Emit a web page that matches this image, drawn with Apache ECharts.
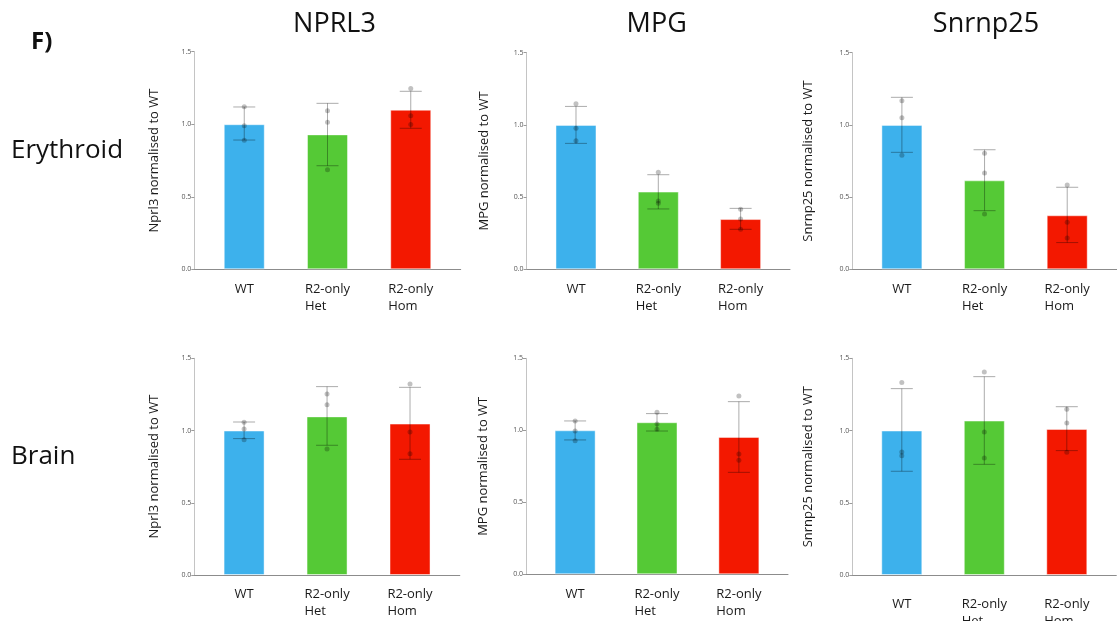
<!DOCTYPE html>
<html>
<head>
<meta charset="utf-8">
<title>qPCR expression, normalised to WT</title>
<script src="https://cdn.jsdelivr.net/npm/echarts@6/dist/echarts.min.js"></script>
<style>
  html, body { margin: 0; padding: 0; background: #ffffff; }
  #chart { width: 1117px; height: 621px; }
</style>
</head>
<body>
<div id="chart"></div>
<script>
// Genotype groups on every x axis
const groups = ['WT', 'R2-only\nHet', 'R2-only\nHom'];
const genes = ['NPRL3', 'MPG', 'Snrnp25'];
const yNames = ['Nprl3 normalised to WT', 'MPG normalised to WT', 'Snrnp25 normalised to WT'];
const tissues = ['Erythroid', 'Brain'];
const panelLetter = 'F)';
const groupColors = ['#3db1ec', '#55c936', '#f31800'];

// Erythroid: bar means, error bar [low, high], and individual replicates
const eryNprl3Mean = [1.00, 0.93, 1.10];
const eryNprl3Err = [[0.891, 1.119], [0.714, 1.144], [0.972, 1.227]];
const eryNprl3Pts = [[1.120, 0.990, 0.890], [1.093, 1.013, 0.687], [1.247, 1.059, 0.999]];

const eryMpgMean = [1.00, 0.538, 0.348];
const eryMpgErr = [[0.872, 1.128], [0.418, 0.655], [0.277, 0.422]];
const eryMpgPts = [[1.147, 0.976, 0.891], [0.672, 0.473, 0.457], [0.415, 0.348, 0.277]];

const erySnrnp25Mean = [1.00, 0.616, 0.374];
const erySnrnp25Err = [[0.810, 1.191], [0.406, 0.828], [0.185, 0.568]];
const erySnrnp25Pts = [[1.168, 1.050, 0.789], [0.803, 0.667, 0.383], [0.584, 0.325, 0.217]];

// Brain
const brainNprl3Mean = [1.00, 1.098, 1.048];
const brainNprl3Err = [[0.944, 1.059], [0.898, 1.304], [0.801, 1.299]];
const brainNprl3Pts = [[1.057, 1.011, 0.937], [1.253, 1.179, 0.872], [1.322, 0.990, 0.840]];

const brainMpgMean = [1.00, 1.056, 0.954];
const brainMpgErr = [[0.933, 1.065], [0.995, 1.116], [0.708, 1.199]];
const brainMpgPts = [[1.065, 0.995, 0.928], [1.125, 1.044, 1.007], [1.238, 0.836, 0.792]];

const brainSnrnp25Mean = [1.00, 1.069, 1.011];
const brainSnrnp25Err = [[0.718, 1.290], [0.766, 1.373], [0.861, 1.165]];
const brainSnrnp25Pts = [[1.332, 0.852, 0.826], [1.405, 0.990, 0.810], [1.147, 1.052, 0.849]];

// y-axis tick range
const yMin = 0, yMax = 1.5, yStep = 0.5;

const panels = [
  { mean: eryNprl3Mean, err: eryNprl3Err, pts: eryNprl3Pts, gene: 0 },
  { mean: eryMpgMean, err: eryMpgErr, pts: eryMpgPts, gene: 1 },
  { mean: erySnrnp25Mean, err: erySnrnp25Err, pts: erySnrnp25Pts, gene: 2 },
  { mean: brainNprl3Mean, err: brainNprl3Err, pts: brainNprl3Pts, gene: 0 },
  { mean: brainMpgMean, err: brainMpgErr, pts: brainMpgPts, gene: 1 },
  { mean: brainSnrnp25Mean, err: brainSnrnp25Err, pts: brainSnrnp25Pts, gene: 2 }
];

// Plot-area geometry for each panel (pixels)
const layout = [
  { left: 194.3, top: 51.7, width: 266.4, height: 217.6, nameGap: 34, labelMargin: 11 },
  { left: 526.6, top: 52.7, width: 263.4, height: 216.6, nameGap: 36, labelMargin: 11 },
  { left: 852.3, top: 52.7, width: 264.5, height: 216.6, nameGap: 38, labelMargin: 11 },
  { left: 194.3, top: 358.3, width: 265.5, height: 216.7, nameGap: 34, labelMargin: 11 },
  { left: 526.0, top: 358.3, width: 262.0, height: 216.0, nameGap: 36, labelMargin: 11 },
  { left: 852.3, top: 358.3, width: 264.0, height: 216.7, nameGap: 38, labelMargin: 21 }
];

const FONT = '"Open Sans", "Noto Sans", sans-serif';

const grid = [], xAxis = [], yAxis = [], series = [];

panels.forEach(function (p, i) {
  const g = layout[i];
  grid.push({
    left: g.left, top: g.top, width: g.width, height: g.height,
    containLabel: false, outerBoundsMode: 'none'
  });

  xAxis.push({
    gridIndex: i,
    type: 'value',
    min: -0.6,
    max: 2.6,
    splitLine: { show: false },
    axisLine: { show: true, onZero: false, lineStyle: { color: '#8c8c8c', width: 1 } },
    axisTick: { show: false },
    axisLabel: {
      customValues: [0, 1, 2],
      formatter: function (v) {
        return groups[Math.round(v)].split('\n').map(function (s) { return '{t|' + s + '}'; }).join('\n');
      },
      margin: g.labelMargin,
      verticalAlign: 'top',
      rich: {
        t: { fontFamily: FONT, fontSize: 13, color: '#1a1a1a', lineHeight: 17, align: 'left' }
      }
    }
  });

  yAxis.push({
    gridIndex: i,
    type: 'value',
    min: yMin,
    max: yMax,
    interval: yStep,
    name: yNames[p.gene],
    nameLocation: 'middle',
    nameGap: g.nameGap,
    nameTextStyle: { fontFamily: FONT, fontSize: 13, color: '#1a1a1a' },
    splitLine: { show: false },
    axisLine: { show: true, onZero: false, lineStyle: { color: '#c4c4c4', width: 1 } },
    axisTick: { show: true, length: 3, lineStyle: { color: '#9a9a9a' } },
    axisLabel: {
      fontFamily: FONT, fontSize: 7, color: '#555555', margin: 3,
      formatter: function (v) { return v.toFixed(1); }
    }
  });

  // Bars: group means
  series.push({
    type: 'bar',
    xAxisIndex: i,
    yAxisIndex: i,
    barWidth: 41,
    silent: true,
    data: p.mean.map(function (m, k) {
      return {
        value: [k, m],
        itemStyle: { color: groupColors[k], borderColor: 'rgba(255,255,255,0.45)', borderWidth: 1 }
      };
    })
  });

  // Error bars with caps
  series.push({
    type: 'custom',
    xAxisIndex: i,
    yAxisIndex: i,
    silent: true,
    z: 5,
    encode: { x: 0, y: [1, 2] },
    data: p.err.map(function (e, k) { return [k, e[0], e[1]]; }),
    renderItem: function (params, api) {
      const lo = api.coord([api.value(0), api.value(1)]);
      const hi = api.coord([api.value(0), api.value(2)]);
      const half = 11;
      const style = { stroke: 'rgba(0,0,0,0.33)', lineWidth: 1, fill: null };
      return {
        type: 'group',
        children: [
          { type: 'line', shape: { x1: lo[0], y1: lo[1], x2: hi[0], y2: hi[1] }, style: style },
          { type: 'line', shape: { x1: hi[0] - half, y1: hi[1], x2: hi[0] + half, y2: hi[1] }, style: style },
          { type: 'line', shape: { x1: lo[0] - half, y1: lo[1], x2: lo[0] + half, y2: lo[1] }, style: style }
        ]
      };
    }
  });

  // Individual replicates
  const pts = [];
  p.pts.forEach(function (arr, k) { arr.forEach(function (v) { pts.push([k, v]); }); });
  series.push({
    type: 'scatter',
    xAxisIndex: i,
    yAxisIndex: i,
    silent: true,
    z: 6,
    symbol: 'circle',
    symbolSize: 5,
    itemStyle: { color: 'rgba(0,0,0,0.3)' },
    data: pts
  });
});

// Column titles, row labels and the figure letter
const graphic = [];
const titleX = [334.5, 656.7, 986];
genes.forEach(function (name, k) {
  graphic.push({
    type: 'text', x: titleX[k], y: 24,
    style: { text: name, font: '27px ' + FONT, fill: '#111111', textAlign: 'center', textVerticalAlign: 'middle' }
  });
});
const rowY = [151, 457];
tissues.forEach(function (name, k) {
  graphic.push({
    type: 'text', x: 11, y: rowY[k],
    style: { text: name, font: '26px ' + FONT, fill: '#111111', textAlign: 'left', textVerticalAlign: 'middle' }
  });
});
graphic.push({
  type: 'text', x: 31, y: 42,
  style: { text: panelLetter, font: 'bold 24px ' + FONT, fill: '#111111', textAlign: 'left', textVerticalAlign: 'middle' }
});

const chart = echarts.init(document.getElementById('chart'), null, { renderer: 'canvas' });
chart.setOption({
  animation: false,
  backgroundColor: '#ffffff',
  grid: grid,
  xAxis: xAxis,
  yAxis: yAxis,
  series: series,
  graphic: graphic
});
</script>
</body>
</html>
